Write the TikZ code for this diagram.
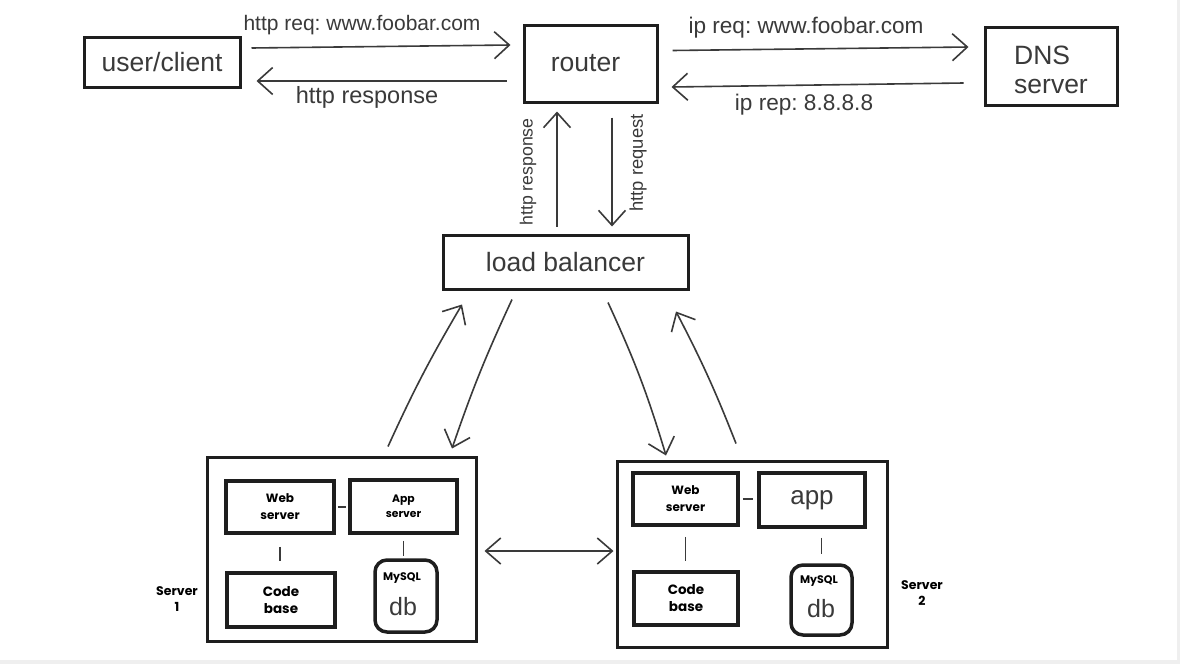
\documentclass[tikz,border=0pt]{standalone}
\usepackage{fontspec}
\setmainfont{Liberation Sans}
\newfontfamily\popfont{Poppins}
\usetikzlibrary{arrows.meta,calc}
\definecolor{ink}{HTML}{3A3A3A}
\definecolor{edge}{HTML}{1E1E1E}
\definecolor{band}{HTML}{EFEFEF}
\frenchspacing
\begin{document}
\begin{tikzpicture}[x=1pt,y=-1pt,
  box/.style={draw=edge, line width=3pt, inner sep=0pt, text=ink, font=\fontsize{26.5}{29}\selectfont},
  inbox/.style={draw=edge, line width=3.5pt, inner sep=0pt, align=center, text=black},
  dbbox/.style={inbox, rounded corners=12pt},
  small/.style={font=\popfont\bfseries\fontsize{11.5}{17}\selectfont, align=center, text=black, inner sep=0pt},
  conn/.style={draw=ink, line width=1.6pt},
  arr/.style={conn, -{Straight Barb[length=15pt,width=27pt]}},
  darr/.style={conn, {Straight Barb[length=15pt,width=26pt]}-{Straight Barb[length=15pt,width=26pt]}},
  lbl/.style={text=ink, inner sep=0pt},
]
\useasboundingbox (0,0) rectangle (1180,664);
\fill[white] (0,0) rectangle (1180,664);
\fill[band] (0,660) rectangle (1180,664);
\fill[band] (1177,0) rectangle (1180,664);

% top row
\node[box, minimum width=156, minimum height=50] (client) at (162,62) {user/client};
\node[box, minimum width=133, minimum height=77] (router) at (590.5,63.5) {router\hspace*{10pt}};
\node[box, minimum width=132, minimum height=78, align=left] (dns) at (1051,66) {\rule{0pt}{27pt}DNS\\server};
\node[box, minimum width=245, minimum height=54] (lb) at (565.5,262) {load balancer};

% server 1
\node[box, minimum width=269, minimum height=184] (s1) at (341.5,549) {};
\node[inbox, minimum width=108, minimum height=52, font=\popfont\bfseries\fontsize{12}{17}\selectfont] (web1) at (280,507) {Web\\server};
\node[inbox, minimum width=107, minimum height=53, font=\popfont\bfseries\fontsize{10.8}{15}\selectfont] (app1) at (403.5,506.5) {App\\server};
\node[inbox, minimum width=108, minimum height=54, font=\popfont\bfseries\fontsize{13.5}{17}\selectfont] (code1) at (281,600) {Code\\base};
\node[dbbox, minimum width=62, minimum height=72] (db1) at (406,596) {};
\node[small, font=\popfont\bfseries\fontsize{11}{12}\selectfont] (my1) at (402,578) {MySQL};
\node[lbl, font=\fontsize{25}{28}\selectfont] (dbt1) at (403,607) {db};
\node[small, font=\popfont\bfseries\fontsize{12.5}{16}\selectfont] (lab1) at (177,599) {Server\\1};

% server 2
\node[box, minimum width=270, minimum height=186] (s2) at (752,554) {};
\node[inbox, minimum width=105, minimum height=52, font=\popfont\bfseries\fontsize{12}{17}\selectfont] (web2) at (685.5,499) {Web\\server};
\node[inbox, minimum width=106, minimum height=54, text=ink, font=\fontsize{26}{28}\selectfont] (app2) at (812,500) {app};
\node[inbox, minimum width=104, minimum height=53, font=\popfont\bfseries\fontsize{13.5}{17}\selectfont] (code2) at (686,598.5) {Code\\base};
\node[dbbox, minimum width=61, minimum height=70] (db2) at (821.5,600) {};
\node[small, font=\popfont\bfseries\fontsize{11}{12}\selectfont] (my2) at (819,581) {MySQL};
\node[lbl, font=\fontsize{25}{28}\selectfont] (dbt2) at (821,609) {db};
\node[small, font=\popfont\bfseries\fontsize{12.5}{16}\selectfont] (lab2) at (922,593) {Server\\2};

% inner links
\draw[conn, shorten <=2pt, shorten >=2pt] (web1.east) -- (web1.east -| app1.west);
\draw[conn, shorten <=12pt, shorten >=10pt] (web1.south) -- (web1.south |- code1.north);
\draw[conn, shorten <=6pt, shorten >=2pt] (app1.south) -- (app1.south |- db1.north);
\draw[conn, shorten <=3pt, shorten >=4pt] (web2.east) -- (web2.east -| app2.west);
\draw[conn, shorten <=10pt, shorten >=9pt] (web2.south) -- (web2.south |- code2.north);
\draw[conn, shorten <=9pt, shorten >=9pt] (app2.south -| db2.north) -- (db2.north);

% server link
\draw[darr] ($(s1.east)+(7,2)$) -- ($(s2.west)+(-2,-3)$);

% top arrows
\coordinate (q1) at ($(client.east)+(10,-14)$);
\coordinate (q2) at ($(router.west)+(-12,-18.5)$);
\coordinate (r1) at ($(router.west)+(-16,17.5)$);
\coordinate (r2) at ($(client.east)+(15,19)$);
\coordinate (i1) at ($(router.east)+(14,-13)$);
\coordinate (i2) at ($(dns.west)+(-15,-19)$);
\coordinate (j1) at ($(dns.west)+(-20,17)$);
\coordinate (j2) at ($(router.east)+(13,23.5)$);
\draw[arr] (q1) -- (q2);
\draw[arr] (r1) -- (r2);
\draw[arr] (i1) -- (i2);
\draw[arr] (j1) -- (j2);
\node[lbl, font=\fontsize{21}{24}\selectfont] (tq) at (362,25) {http req: www.foobar.com};
\node[lbl, font=\fontsize{23.5}{26}\selectfont] (tr) at (367,97) {http response};
\node[lbl, font=\fontsize{22.6}{25}\selectfont] (ti) at (806,28) {ip req: www.foobar.com};
\node[lbl, font=\fontsize{22.6}{25}\selectfont] (tj) at (804,105) {ip rep: 8.8.8.8};

% router <-> load balancer
\coordinate (u1) at ($(lb.north)+(-8.5,-7)$);
\coordinate (u2) at ($(router.south)+(-33.5,8)$);
\coordinate (d1) at ($(router.south)+(21.5,14)$);
\coordinate (d2) at ($(lb.north)+(46.5,-7)$);
\draw[arr] (u1) -- (u2);
\draw[arr] (d1) -- (d2);
\node[lbl, rotate=90, font=\fontsize{17.7}{20}\selectfont] (tu) at (528,172) {http response};
\node[lbl, rotate=90, font=\fontsize{18.4}{20}\selectfont] (td) at (638,163) {http request};

% load balancer <-> servers
\coordinate (a1) at ($(s1.north)+(46.5,-9)$);
\coordinate (a2) at ($(lb.south)+(-103.5,14)$);
\coordinate (b1) at ($(lb.south)+(-53.5,9)$);
\coordinate (b2) at ($(s1.north)+(110.5,-7)$);
\coordinate (c1) at ($(lb.south)+(42.5,12)$);
\coordinate (c2) at ($(s2.north)+(-86,-4)$);
\coordinate (e1) at ($(s2.north)+(-16,-16)$);
\coordinate (e2) at ($(lb.south)+(110.5,21)$);
\draw[arr] (a1) to[bend left=3] (a2);
\draw[arr] (b1) to[bend right=3] (b2);
\draw[arr] (c1) to[bend left=4] (c2);
\draw[arr] (e1) to[bend right=3] (e2);
\end{tikzpicture}
\end{document}
